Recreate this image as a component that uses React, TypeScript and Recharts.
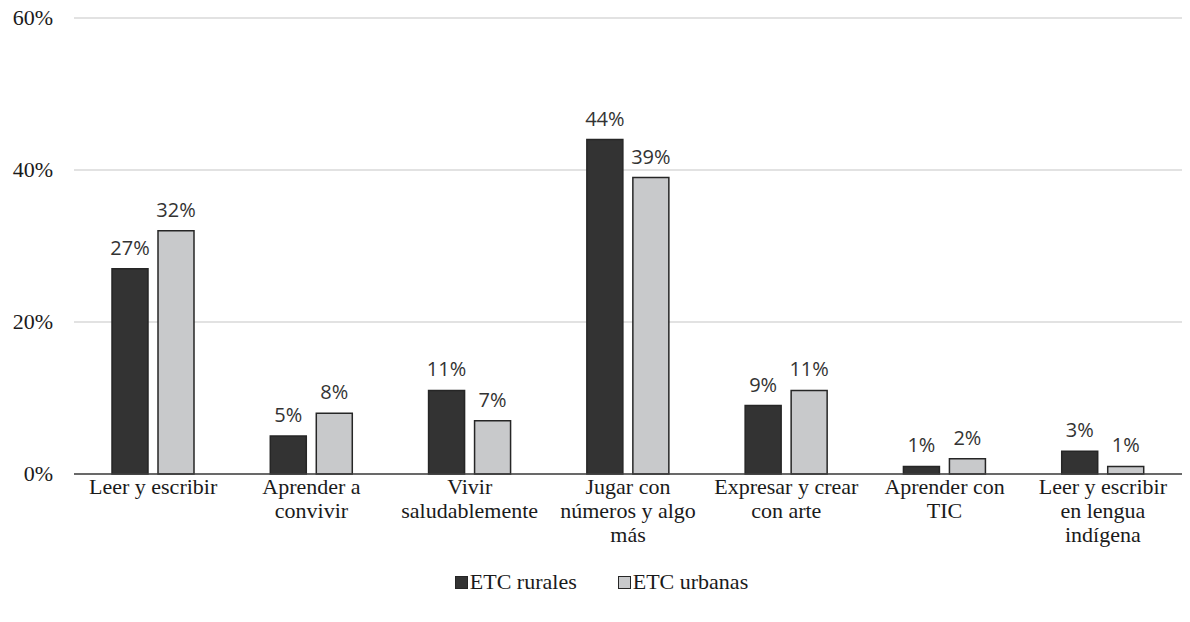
import React from "react"
import { Bar, BarChart, CartesianGrid, LabelList, XAxis, YAxis } from "recharts"

// categories (line breaks follow the reference's wrapping)
const categories = [
  "Leer y escribir",
  "Aprender a\nconvivir",
  "Vivir\nsaludablemente",
  "Jugar con\nnúmeros y algo\nmás",
  "Expresar y crear\ncon arte",
  "Aprender con\nTIC",
  "Leer y escribir\nen lengua\nindígena",
]

const rurales = [27, 5, 11, 44, 9, 1, 3]
const urbanas = [32, 8, 7, 39, 11, 2, 1]

const yTicks = [0, 20, 40, 60]

const seriesNames = { rurales: "ETC rurales", urbanas: "ETC urbanas" }

const data = categories.map((name, i) => ({
  name,
  rurales: rurales[i],
  urbanas: urbanas[i],
}))

const SERIF = "Times New Roman"
const SANS = "Open Sans"
const DARK = "#333333"
const LIGHT = "#c8c9cb"
const EDGE = "#262626"

const CategoryTick = (props: any) => {
  const { x, y, payload } = props
  const lines = String(payload.value).split("\n")
  return (
    <text x={x} y={y} textAnchor="middle" fontFamily={SERIF} fontSize={22} fill="#1a1a1a">
      {lines.map((line, i) => (
        <tspan key={i} x={x} dy={i === 0 ? 12 : 24}>
          {line}
        </tspan>
      ))}
    </text>
  )
}

const ValueTick = (props: any) => {
  const { x, y, payload } = props
  return (
    <text x={x} y={y} dy={7} textAnchor="end" fontFamily={SERIF} fontSize={22} fill="#1a1a1a">
      {`${payload.value}%`}
    </text>
  )
}

const ChartLegend = () => (
  <div
    style={{
      position: "absolute",
      left: -8,
      top: 561,
      width: 1190,
      display: "flex",
      justifyContent: "center",
      gap: 41,
      fontFamily: SERIF,
      fontSize: 22,
      color: "#1a1a1a",
      paddingLeft: 13,
      boxSizing: "border-box",
    }}
  >
    {[
      { label: seriesNames.rurales, color: DARK },
      { label: seriesNames.urbanas, color: LIGHT },
    ].map((item) => (
      <span key={item.label} style={{ display: "flex", alignItems: "center" }}>
        <span
          style={{
            display: "inline-block",
            width: 11,
            height: 11,
            background: item.color,
            border: `1px solid ${EDGE}`,
            marginRight: 2,
          }}
        />
        {item.label}
      </span>
    ))}
  </div>
)

export default function App() {
  return (
    <div style={{ position: "relative", width: 1174, height: 606 }}>
      <BarChart
        width={1174}
        height={606}
        data={data}
        margin={{ top: 10, right: 0, left: 0, bottom: 54 }}
        barGap={10}
        barSize={36}
      >
        <CartesianGrid vertical={false} stroke="#d9d9d9" strokeWidth={1.5} />
        <XAxis
          dataKey="name"
          interval={0}
          height={86}
          tickLine={false}
          axisLine={{ stroke: "#404040", strokeWidth: 1.5 }}
          tick={<CategoryTick />}
        />
        <YAxis
          width={66}
          domain={[0, 60]}
          ticks={yTicks}
          axisLine={false}
          tickLine={false}
          tickSize={0}
          tickMargin={21}
          tick={<ValueTick />}
        />
        <Bar dataKey="rurales" name={seriesNames.rurales} fill={DARK} stroke={EDGE} strokeWidth={1.5} isAnimationActive={false}>
          <LabelList
            dataKey="rurales"
            position="top"
            offset={14}
            formatter={(v: any) => `${v}%`}
            style={{ fontFamily: SANS, fontSize: 20, fill: "#333" }}
          />
        </Bar>
        <Bar dataKey="urbanas" name={seriesNames.urbanas} fill={LIGHT} stroke={EDGE} strokeWidth={1.5} isAnimationActive={false}>
          <LabelList
            dataKey="urbanas"
            position="top"
            offset={14}
            formatter={(v: any) => `${v}%`}
            style={{ fontFamily: SANS, fontSize: 20, fill: "#333" }}
          />
        </Bar>
      </BarChart>
      <ChartLegend />
    </div>
  )
}
